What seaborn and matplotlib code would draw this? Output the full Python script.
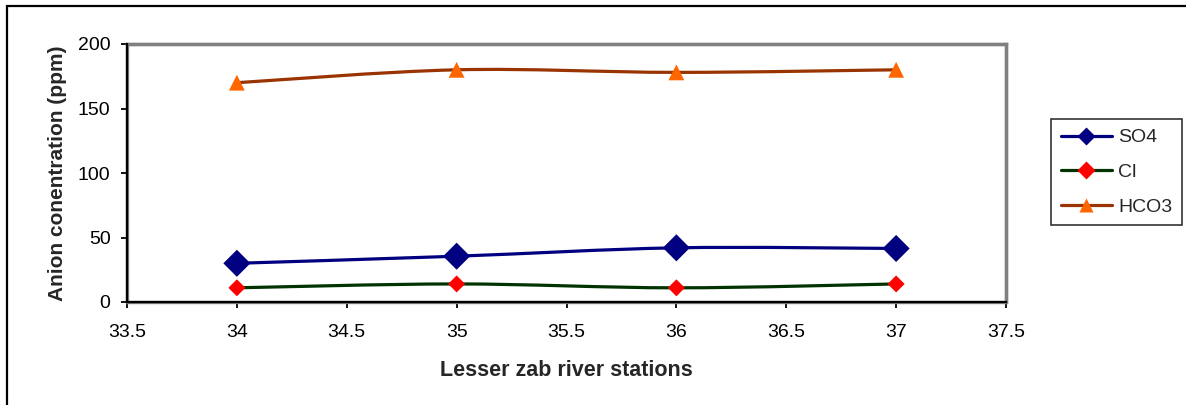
import numpy as np
import pandas as pd
import seaborn as sns
import matplotlib
matplotlib.use("Agg")
import matplotlib.pyplot as plt
from matplotlib.path import Path
from matplotlib.patches import PathPatch, Rectangle
from matplotlib.lines import Line2D
from matplotlib.ticker import FuncFormatter

# Station numbers along the Lesser Zab river
stations = [34, 35, 36, 37]

# Anion concentrations (ppm)
so4 = [30, 35.5, 42, 41.5]
cl = [11, 14, 11, 14]
hco3 = [170, 180, 178, 180]

series_names = ["SO4", "Cl", "HCO3"]
x_ticks = [33.5, 34, 34.5, 35, 35.5, 36, 36.5, 37, 37.5]
y_ticks = [0, 50, 100, 150, 200]

sns.set_theme(style="white")
plt.rcParams["font.family"] = ["Liberation Sans", "DejaVu Sans"]

W, H, DPI = 1186, 405, 100
fig = plt.figure(figsize=(W / DPI, H / DPI), dpi=DPI)
fig.patch.set_facecolor("white")

# plot area
left, right, top, bottom = 127, 1006, 44, 302
ax = fig.add_axes([left / W, 1 - bottom / H, (right - left) / W, (bottom - top) / H])

df = pd.DataFrame({"station": stations, "SO4": so4, "Cl": cl, "HCO3": hco3})

styles = {
    "SO4": dict(line="#000080", face="#000080", marker="D", s=190, lms=9),
    "Cl": dict(line="#003300", face="#FF0000", marker="D", s=75, lms=9),
    "HCO3": dict(line="#993300", face="#FF6600", marker="^", s=130, lms=10),
}


def smooth_path(xs, ys):
    """Cubic Bezier path through the points (cardinal spline, tension 1/6)."""
    pts = np.column_stack([xs, ys]).astype(float)
    n = len(pts)
    verts = [pts[0]]
    codes = [Path.MOVETO]
    for i in range(n - 1):
        p0 = pts[i - 1] if i > 0 else pts[i]
        p1 = pts[i]
        p2 = pts[i + 1]
        p3 = pts[i + 2] if i + 2 < n else pts[i + 1]
        c1 = p1 + (p2 - p0) / 6.0
        c2 = p2 - (p3 - p1) / 6.0
        verts += [c1, c2, p2]
        codes += [Path.CURVE4] * 3
    return Path(verts, codes)


handles = []
for name in series_names:
    st = styles[name]
    path = smooth_path(df["station"], df[name])
    ax.add_patch(PathPatch(path, facecolor="none", edgecolor=st["line"],
                           lw=2.3, zorder=3, capstyle="round", joinstyle="round"))
    sns.scatterplot(data=df, x="station", y=name, ax=ax, marker=st["marker"],
                    s=st["s"], color=st["face"], edgecolor="none", zorder=4,
                    legend=False)
    handles.append(Line2D([], [], color=st["line"], lw=2.3, marker=st["marker"],
                          markersize=st["lms"], markerfacecolor=st["face"],
                          markeredgecolor="none", label=name))

ax.set_xlim(33.5, 37.5)
ax.set_ylim(0, 200)
ax.set_xticks(x_ticks)
ax.set_yticks(y_ticks)
ax.xaxis.set_major_formatter(FuncFormatter(lambda v, p: f"{v:g}"))
ax.tick_params(axis="both", which="major", direction="out", length=4.3, width=1.3,
               color="black", labelsize=14, labelcolor="black",
               bottom=True, left=True)
ax.tick_params(axis="x", pad=11.5)
ax.tick_params(axis="y", pad=7.5)

for side in ["top", "right"]:
    ax.spines[side].set_color("#808080")
    ax.spines[side].set_linewidth(2.4)
for side in ["left", "bottom"]:
    ax.spines[side].set_color("black")
    ax.spines[side].set_linewidth(1.6)
    ax.spines[side].set_zorder(5)

# gray frame under the black axis lines
ax.add_patch(Rectangle((0, 0), 1, 1, transform=ax.transAxes, fill=False,
                       edgecolor="#808080", lw=2.4, zorder=2, clip_on=False))

ax.set_xlabel("Lesser zab river stations", fontsize=15.5, fontweight="bold",
              labelpad=14)
ax.set_ylabel("Anion conentration (ppm)", fontsize=15, fontweight="bold",
              labelpad=8)

leg = fig.legend(handles=handles, loc="upper left",
                 bbox_to_anchor=(1051 / W, 1 - 119 / H), borderaxespad=0,
                 frameon=True, fancybox=False, fontsize=14,
                 handlelength=2.65, handletextpad=0.3, labelspacing=0.88,
                 borderpad=0.5)
leg.get_frame().set_edgecolor("black")
leg.get_frame().set_linewidth(1.2)

# chart-area outline (top and left edges)
fig.add_artist(Rectangle((7 / W, -0.1), 1.2, 1 - 6 / H + 0.1,
                         transform=fig.transFigure, fill=False,
                         edgecolor="black", lw=1.6, zorder=0))

fig.savefig("out.png", dpi=DPI, facecolor="white")
